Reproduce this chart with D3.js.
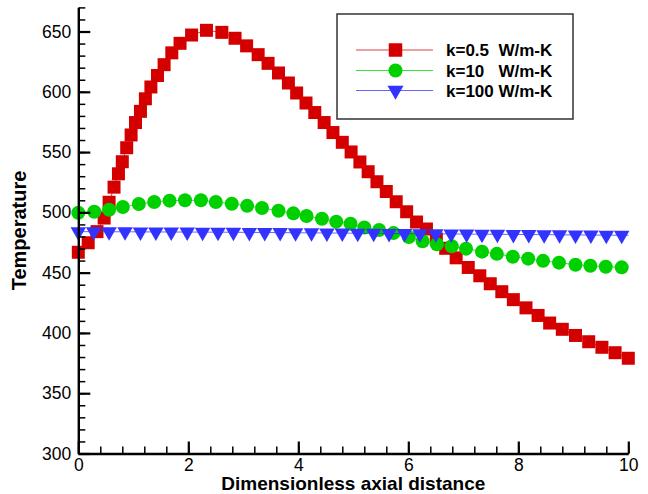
<!DOCTYPE html>
<html>
<head>
<meta charset="utf-8">
<script src="https://cdn.jsdelivr.net/npm/d3@7"></script>
<style>
  html, body { margin: 0; padding: 0; background: #fff; }
  svg { display: block; font-family: "Liberation Sans", Arial, sans-serif; }
</style>
</head>
<body>
<svg id="chart" width="648" height="494"></svg>
<script>
// ---- data ----
const seriesNames = ["k=0.5  W/m-K", "k=10   W/m-K", "k=100 W/m-K"];

const redX = [0,0.18,0.34,0.47,0.56,0.65,0.73,0.80,0.88,0.96,1.04,1.13,1.22,1.32,1.44,1.56,1.70,1.85,2.06,2.33,
  2.61,2.85,3.06,3.27,3.45,3.64,3.82,3.97,4.14,4.30,4.47,4.63,4.80,4.96,5.12,5.27,5.43,5.60,5.78,5.97,
  6.15,6.33,6.51,6.68,6.87,7.09,7.30,7.49,7.70,7.91,8.14,8.36,8.57,8.80,9.04,9.28,9.52,9.76,10.0];
const redY = [466.9,474.8,484.0,495.3,508.4,520.9,532.0,542.0,553.6,564.2,574.5,583.8,594.2,604.0,613.5,622.5,632.3,640.2,647.1,651.0,
  649.3,644.4,638.1,630.8,623.6,615.6,607.3,599.0,590.7,582.8,574.5,566.2,558.1,550.1,541.8,533.7,525.4,517.3,508.8,500.5,
  492.0,486.2,477.9,470.2,462.3,454.3,447.4,440.8,434.2,427.6,420.8,414.5,408.2,403.0,397.9,392.7,388.1,383.6,379.0];
const redTail = [];

const greenX = [0,0.29,0.56,0.81,1.10,1.38,1.66,1.94,2.23,2.50,2.79,3.07,3.34,3.64,3.91,4.15,4.43,4.69,4.95,5.20,
  5.47,5.73,6.01,6.26,6.52,6.79,7.05,7.34,7.61,7.90,8.18,8.45,8.74,9.04,9.31,9.59,9.88];
const greenY = [499.7,500.5,502.2,504.4,506.9,508.6,509.7,510.0,510.0,508.6,507.2,505.4,503.6,501.3,499.2,497.0,494.7,492.3,490.5,487.4,
  485.4,482.8,479.5,476.0,473.6,471.9,469.9,467.4,465.6,463.2,461.6,459.8,458.3,456.6,455.7,454.9,454.4];
const greenTail = [10, 454.3];

const blueX = [0,0.28,0.56,0.85,1.13,1.41,1.69,1.98,2.26,2.54,2.82,3.11,3.39,3.67,3.95,4.24,4.52,4.80,
  5.08,5.37,5.65,5.93,6.21,6.50,6.78,7.06,7.34,7.62,7.91,8.19,8.47,8.75,9.04,9.32,9.60,9.88];
const blueY = [484.0,484.0,483.9,483.9,483.8,483.8,483.7,483.7,483.6,483.6,483.5,483.4,483.3,483.2,483.1,483.0,482.9,482.8,
  482.7,482.6,482.5,482.4,482.3,482.2,482.1,482.0,481.9,481.8,481.7,481.6,481.5,481.4,481.3,481.2,481.1,481.0];
const blueTail = [10, 481.0];

const xTickValues = [0, 2, 4, 6, 8, 10];
const yTickValues = [300, 350, 400, 450, 500, 550, 600, 650];
const xTitle = "Dimensionless axial distance";
const yTitle = "Temperature";

// ---- layout ----
const svg = d3.select("#chart");
const x = d3.scaleLinear().domain([0, 10]).range([78.3, 628.3]);
const y = d3.scaleLinear().domain([300, 670]).range([453.5, 7.4]);

const colors = ["#d40000", "#00d000", "#3333ff"];

function triPath(w, h) {
  // inverted triangle centred on its centroid
  return `M${-w/2},${-h/3}L${w/2},${-h/3}L0,${2*h/3}Z`;
}
const markerPaths = [
  d3.symbol().type(d3.symbolSquare).size(13 * 13)(),
  d3.symbol().type(d3.symbolCircle).size(Math.PI * 7 * 7)(),
  triPath(15.5, 13.5)
];
const legendMarkerPaths = [
  d3.symbol().type(d3.symbolSquare).size(13.5 * 13.5)(),
  d3.symbol().type(d3.symbolCircle).size(Math.PI * 7 * 7)(),
  triPath(16, 14)
];

// ---- series ----
const series = [
  {xs: redX, ys: redY, tail: redTail},
  {xs: greenX, ys: greenY, tail: greenTail},
  {xs: blueX, ys: blueY, tail: blueTail}
];
const line = d3.line().x(d => x(d[0])).y(d => y(d[1]));

series.forEach((s, i) => {
  const pts = s.xs.map((v, j) => [v, s.ys[j]]);
  const linePts = s.tail.length ? pts.concat([s.tail]) : pts;
  const g = svg.append("g");
  g.append("path").attr("d", line(linePts))
    .attr("fill", "none").attr("stroke", colors[i]).attr("stroke-width", 1).attr("stroke-opacity", 0.75);
  g.selectAll("path.m").data(pts).join("path")
    .attr("class", "m")
    .attr("d", markerPaths[i])
    .attr("transform", d => `translate(${x(d[0])},${y(d[1])})`)
    .attr("fill", colors[i]);
});

// ---- axes ----
const xMinor = d3.range(0, 10.001, 0.4).map(v => +v.toFixed(1));
const yMinor = d3.range(300, 670.001, 10);

const xAxisG = svg.append("g").attr("transform", `translate(0,${y(300)})`);
xAxisG.call(d3.axisBottom(x).tickValues(xMinor).tickSize(-7).tickSizeOuter(0).tickFormat(""))
  .call(g => g.select(".domain").remove())
  .call(g => g.selectAll("line").attr("stroke", "#000").attr("stroke-width", 1.5));
xAxisG.append("g").call(d3.axisBottom(x).tickValues(xTickValues).tickSize(-12).tickSizeOuter(0).tickPadding(5).tickFormat(d3.format("d")))
  .call(g => g.select(".domain").attr("stroke", "#000").attr("stroke-width", 2.4))
  .call(g => g.selectAll("line").attr("stroke", "#000").attr("stroke-width", 2.2))
  .call(g => g.selectAll("text").attr("font-size", 17.5).attr("fill", "#000")
        .attr("font-family", "'Liberation Sans', Arial, sans-serif"));

const yAxisG = svg.append("g").attr("transform", `translate(${x(0)},0)`);
yAxisG.call(d3.axisLeft(y).tickValues(yMinor).tickSize(-7).tickSizeOuter(0).tickFormat(""))
  .call(g => g.select(".domain").remove())
  .call(g => g.selectAll("line").attr("stroke", "#000").attr("stroke-width", 1.5));
yAxisG.append("g").call(d3.axisLeft(y).tickValues(yTickValues).tickSize(-12).tickSizeOuter(0).tickPadding(7))
  .call(g => g.select(".domain").attr("stroke", "#000").attr("stroke-width", 2.4))
  .call(g => g.selectAll("line").attr("stroke", "#000").attr("stroke-width", 2.2))
  .call(g => g.selectAll("text").attr("font-size", 17.5).attr("fill", "#000")
        .attr("font-family", "'Liberation Sans', Arial, sans-serif"));

// axis titles
svg.append("text")
  .attr("x", (x(0) + x(10)) / 2).attr("y", 490)
  .attr("text-anchor", "middle").attr("font-size", 19).attr("font-weight", "bold")
  .text(xTitle);
svg.append("text")
  .attr("transform", `translate(26,${(y(300) + y(670)) / 2}) rotate(-90)`)
  .attr("text-anchor", "middle").attr("font-size", 20).attr("font-weight", "bold")
  .text(yTitle);

// ---- legend ----
const leg = svg.append("g");
leg.append("rect").attr("x", 337).attr("y", 14).attr("width", 236).attr("height", 105)
  .attr("fill", "#fff").attr("stroke", "#333").attr("stroke-width", 1.5);
const rowY = [50, 70.5, 90.5];
seriesNames.forEach((name, i) => {
  const r = leg.append("g").attr("transform", `translate(0,${rowY[i]})`);
  r.append("line").attr("x1", 356).attr("x2", 433).attr("y1", 0).attr("y2", 0)
    .attr("stroke", colors[i]).attr("stroke-width", 1).attr("stroke-opacity", 0.75);
  r.append("path").attr("d", legendMarkerPaths[i]).attr("transform", "translate(395.5,0)")
    .attr("fill", colors[i]);
  r.append("text").attr("x", 446).attr("y", 6).attr("font-size", 17).attr("font-weight", "bold")
    .attr("xml:space", "preserve").style("white-space", "pre")
    .text(name);
});
</script>
</body>
</html>
